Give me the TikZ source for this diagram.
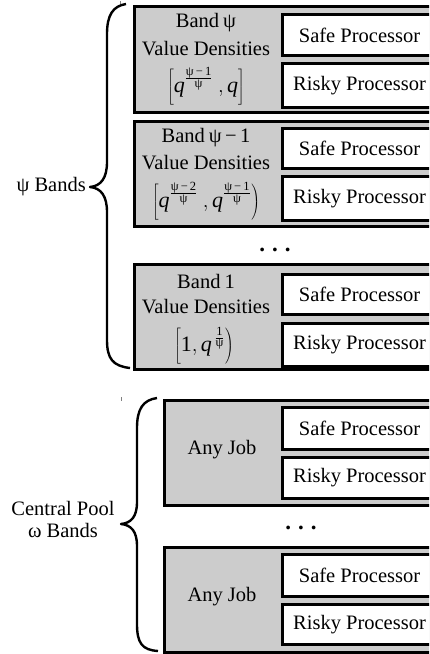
\documentclass[tikz,border=0pt]{standalone}
\usepackage{fontspec}
\setmainfont{Liberation Serif}
\definecolor{bandgray}{RGB}{204,204,204}
% type sizes for the range formulas
\newcommand\expfont{\fontsize{12.5}{13}\selectfont}
\newcommand\qq{\mbox{\fontsize{22}{24}\selectfont\itshape q}}
\newcommand\one{\mbox{\fontsize{22}{24}\selectfont 1}}
\newcommand\ex[2]{^{\frac{\mbox{\expfont #1}}{\mbox{\expfont #2}}}}
% struts that set the height of the range brackets
\newcommand\tallstrut{\rule[-13pt]{0pt}{38pt}}
\newcommand\midstrut{\rule[-12pt]{0pt}{34pt}}
\begin{document}
\begin{tikzpicture}[x=1pt,y=-1pt,
  every node/.style={font=\fontsize{20.5}{26}\selectfont, inner sep=0pt},
  bandbox/.style={draw=black, line width=3pt, fill=bandgray,
    minimum width=313pt, anchor=north west},
  procbox/.style={draw=black, line width=3pt, fill=white,
    minimum width=154pt, anchor=north west},
  bracepath/.style={draw=black, line width=2.4pt, line join=round},
  dotrow/.style={anchor=base, font=\fontsize{23}{26}\selectfont\bfseries},
]
\useasboundingbox (0,0) rectangle (429,654);
\clip (0,0) rectangle (429,654);

% ---------- psi bands ----------
\node[bandbox, minimum height=106pt] (bandA) at (133,5) {};
\node[procbox, minimum height=41pt] (safeA) at (281,13) {Safe Processor};
\node[procbox, minimum height=44pt] (riskyA) at (281,62) {Risky Processor};
\node (titleA) at (206,23) {Band\hspace{4pt}ψ};
\node (valA) at (206,49) {Value Densities};
\node (rngA) at (206,86)
  {$\left[\tallstrut\qq\ex{ψ\,−\,1}{ψ}\mbox{ },\qq\right]$};

\node[bandbox, minimum height=105pt] (bandB) at (133,120) {};
\node[procbox, minimum height=40pt] (safeB) at (281,127) {Safe Processor};
\node[procbox, minimum height=44pt] (riskyB) at (281,175) {Risky Processor};
\node (titleB) at (206,138) {Band\hspace{4pt}ψ\,−\,1};
\node (valB) at (206,163) {Value Densities};
\node (rngB) at (206,201)
  {$\left[\tallstrut\qq\ex{ψ\,−\,2}{ψ}\mbox{ },\qq\ex{ψ\,−\,1}{ψ}\right)$};

\node[dotrow] (dotsA) at (275,251) {.\hspace{7pt}.\hspace{7pt}.};

\node[bandbox, minimum height=105pt] (bandC) at (133,263) {};
\node[procbox, minimum height=40pt] (safeC) at (281,273) {Safe Processor};
\node[procbox, minimum height=43pt] (riskyC) at (281,322) {Risky Processor};
\node (titleC) at (206,281) {Band\hspace{4pt}1};
\node (valC) at (206,307) {Value Densities};
\node (rngC) at (204,346)
  {$\left[\midstrut\one,\qq^{\mkern3mu\frac{\mbox{\expfont 1}}{\mbox{\expfont ψ}}}\right)$};

\draw[bracepath] (126,4) .. controls (113,6) and (107,15) .. (107,34)
  -- (107,162) .. controls (107,178) and (101,186) .. (90,187)
  .. controls (101,188) and (107,196) .. (107,212)
  -- (107,340) .. controls (107,359) and (113,366) .. (130,368);
\node[anchor=east] (psiBands) at (86,187) {ψ Bands};

% ---------- central pool ----------
\node[bandbox, minimum height=105pt] (poolA) at (163,399) {};
\node[procbox, minimum height=42pt] (safeD) at (281,406) {Safe Processor};
\node[procbox, minimum height=41pt] (riskyD) at (281,456) {Risky Processor};
\node (jobD) at (222,450) {Any Job};

\node[dotrow] (dotsB) at (301,529) {.\hspace{7pt}.\hspace{7pt}.};

\node[bandbox, minimum height=105pt] (poolB) at (163,546) {};
\node[procbox, minimum height=42pt] (safeE) at (281,553) {Safe Processor};
\node[procbox, minimum height=40pt] (riskyE) at (281,603) {Risky Processor};
\node (jobE) at (222,597) {Any Job};

\draw[bracepath] (157,398) .. controls (143,400) and (137,409) .. (137,428)
  -- (137,502) .. controls (137,517) and (131,523) .. (121,524)
  .. controls (131,525) and (137,531) .. (137,546)
  -- (137,624) .. controls (137,643) and (142,650) .. (158,651);
\node[align=center, font=\fontsize{20.5}{22}\selectfont] (pool) at (63,519) {Central Pool\\ω Bands};

% faint marks above each brace
\draw[gray, line width=0.8pt] (120,1) -- (120,4);
\draw[gray, line width=0.8pt] (121,397) -- (121,401);
\end{tikzpicture}
\end{document}
